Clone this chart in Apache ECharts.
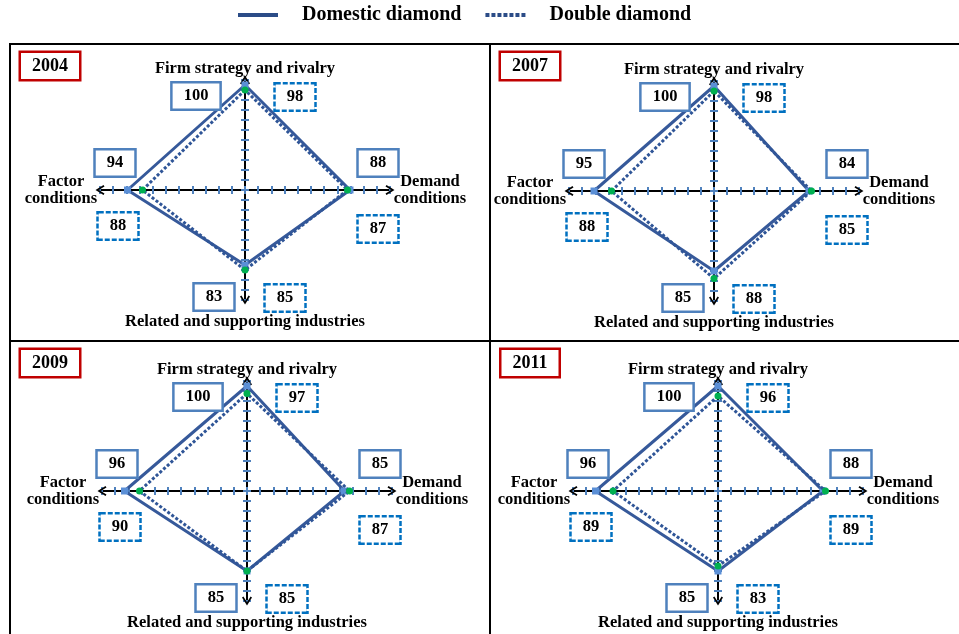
<!DOCTYPE html>
<html><head><meta charset="utf-8">
<script src="https://cdn.jsdelivr.net/npm/echarts@6/dist/echarts.min.js"></script>
<style>html,body{margin:0;padding:0;background:#fff}#c{width:959px;height:634px}</style>
</head><body><div id="c"></div>
<script>
// ---------- data ----------
const years = ['2004', '2007', '2009', '2011'];
// order of the four diamond directions: top, left, bottom, right
const dimensions = ['Firm strategy and rivalry', 'Factor conditions', 'Related and supporting industries', 'Demand conditions'];
const seriesNames = ['Domestic diamond', 'Double diamond'];
const domestic2004 = [100, 94, 83, 88];
const double2004   = [98, 88, 85, 87];
const domestic2007 = [100, 95, 85, 84];
const double2007   = [98, 88, 88, 85];
const domestic2009 = [100, 96, 85, 85];
const double2009   = [97, 90, 85, 87];
const domestic2011 = [100, 96, 85, 88];
const double2011   = [96, 89, 83, 89];
const domesticByYear = [domestic2004, domestic2007, domestic2009, domestic2011];
const doubleByYear = [double2004, double2007, double2009, double2011];
// scale of the schematic: value at the centre for each direction, and span to the radar radius
const axisMin = [58, 47, 53, 46];
const axisSpan = 60;

// ---------- layout / style ----------
const FONT = '"Liberation Serif","Times New Roman",serif';
const panelOrigin = [[10, 44], [490, 44], [10, 341], [490, 341]];
const panelCenter = [[245, 190], [714, 191], [247, 491], [718, 491]];
const HALF_X = 145, HALF_Y = 110, RADIUS = 150;
const domBoxOffset = [[-49, -94], [-130, -27], [-31, 107], [133, -27]];
const dblBoxOffset = [[50, -93], [-127, 36], [40, 108], [133, 39]];
const ARROW = 'path://M5,0L10,8L8.6,9L5,3.2L1.4,9L0,8Z';
const DOM_COLOR = '#36599A', DBL_COLOR = '#2F5597';

const chart = echarts.init(document.getElementById('c'));

const grids = [], xAxes = [], yAxes = [], radars = [], series = [], graphics = [];
const nameStyle = {fontFamily: FONT, fontSize: 16.5, fontWeight: 'bold', color: '#000', lineHeight: 17, align: 'center', verticalAlign: 'middle'};
const tick = {show: true, length: 4, lineStyle: {color: '#4F81BD', width: 2}};

years.forEach((yr, i) => {
  const [cx, cy] = panelCenter[i];
  grids.push({left: cx - HALF_X, top: cy - HALF_Y, width: 2 * HALF_X, height: 2 * HALF_Y, containLabel: false});
  const base = {gridIndex: i, type: 'value', min: -11, max: 11, interval: 1,
    axisLabel: {show: false}, splitLine: {show: false}, axisTick: tick, nameTextStyle: nameStyle, silent: true};
  xAxes.push(Object.assign({}, base, {position: 'bottom',
    axisLine: {onZero: true, lineStyle: {color: '#000', width: 2}, symbol: [ARROW, ARROW], symbolSize: [10, 10]},
    name: dimensions[3].replace(' ', '\n'), nameLocation: 'end', nameGap: 40}));
  xAxes.push(Object.assign({}, base, {position: 'top',
    axisLine: {onZero: true, lineStyle: {color: '#000', width: 2}},
    name: dimensions[1].replace(' ', '\n'), nameLocation: 'start', nameGap: 39}));
  yAxes.push(Object.assign({}, base, {position: 'left',
    axisLine: {onZero: true, lineStyle: {color: '#000', width: 2}, symbol: [ARROW, ARROW], symbolSize: [10, 10]},
    name: dimensions[0], nameLocation: 'end', nameGap: 11}));
  yAxes.push(Object.assign({}, base, {position: 'right',
    axisLine: {onZero: true, lineStyle: {color: '#000', width: 2}},
    name: dimensions[2], nameLocation: 'start', nameGap: 22}));

  radars.push({
    center: [cx, cy], radius: RADIUS, shape: 'polygon', splitNumber: 1,
    indicator: dimensions.map((d, k) => ({name: d, min: axisMin[k], max: axisMin[k] + axisSpan})),
    axisName: {show: false}, axisLine: {show: false}, axisTick: {show: false},
    axisLabel: {show: false}, splitLine: {show: false}, splitArea: {show: false}, silent: true
  });
  series.push({
    type: 'radar', radarIndex: i, name: seriesNames[0], z: 3, silent: true,
    symbol: 'rect', symbolSize: 7,
    itemStyle: {color: '#5B8FD6'},
    lineStyle: {color: DOM_COLOR, width: 3, type: 'solid'},
    data: [{name: seriesNames[0], value: domesticByYear[i]}]
  });
  series.push({
    type: 'radar', radarIndex: i, name: seriesNames[1], z: 4, silent: true,
    symbol: 'circle', symbolSize: 7,
    itemStyle: {color: '#00B050'},
    lineStyle: {color: DBL_COLOR, width: 3, type: [3, 2]},
    data: [{name: seriesNames[1], value: doubleByYear[i]}]
  });

  // year box
  const [ox, oy] = panelOrigin[i];
  graphics.push({type: 'text', x: ox + 40, y: oy + 22, z: 100, silent: true,
    style: {text: yr, fontFamily: FONT, fontSize: 18, fontWeight: 'bold', fill: '#000',
      align: 'center', verticalAlign: 'middle', backgroundColor: '#fff',
      borderColor: '#C00000', borderWidth: 2.5, padding: [4, 11]}});
  // value boxes
  for (let k = 0; k < 4; k++) {
    graphics.push({type: 'text', x: cx + domBoxOffset[k][0], y: cy + domBoxOffset[k][1], z: 100, silent: true,
      style: {text: String(domesticByYear[i][k]), fontFamily: FONT, fontSize: 16.5, fontWeight: 'bold', fill: '#000',
        align: 'center', verticalAlign: 'middle', backgroundColor: '#fff',
        borderColor: '#4F81BD', borderWidth: 2.5, padding: [4, 11]}});
    graphics.push({type: 'text', x: cx + dblBoxOffset[k][0], y: cy + dblBoxOffset[k][1], z: 100, silent: true,
      style: {text: String(doubleByYear[i][k]), fontFamily: FONT, fontSize: 16.5, fontWeight: 'bold', fill: '#000',
        align: 'center', verticalAlign: 'middle', backgroundColor: '#fff',
        borderColor: '#0070C0', borderWidth: 2.5, borderDash: [5, 2], padding: [4, 11]}});
  }
});

// panel frame lines
[[9, 44, 959, 44], [10, 43, 10, 634], [490, 44, 490, 634], [10, 341, 959, 341]].forEach(l => {
  graphics.push({type: 'line', z: 90, silent: true, shape: {x1: l[0], y1: l[1], x2: l[2], y2: l[3]},
    style: {stroke: '#000', lineWidth: 2}});
});

chart.setOption({
  backgroundColor: '#fff',
  animation: false,
  legend: {
    left: 238, top: 5, padding: 0, itemWidth: 40, itemHeight: 4, itemGap: 24, selectedMode: false,
    textStyle: {fontFamily: FONT, fontSize: 20, fontWeight: 'bold', color: '#000', padding: [0, 0, 0, 19]},
    data: [
      {name: seriesNames[0], icon: 'path://M0,0H40V4H0Z', itemStyle: {color: '#2B4C87'}},
      {name: seriesNames[1], icon: 'path://M0,0h4v4h-4zM6,0h4v4h-4zM12,0h4v4h-4zM18,0h4v4h-4zM24,0h4v4h-4zM30,0h4v4h-4zM36,0h4v4h-4z', itemStyle: {color: '#2B4C87'}}
    ]
  },
  grid: grids, xAxis: xAxes, yAxis: yAxes, radar: radars, series: series,
  graphic: graphics
});
</script></body></html>
